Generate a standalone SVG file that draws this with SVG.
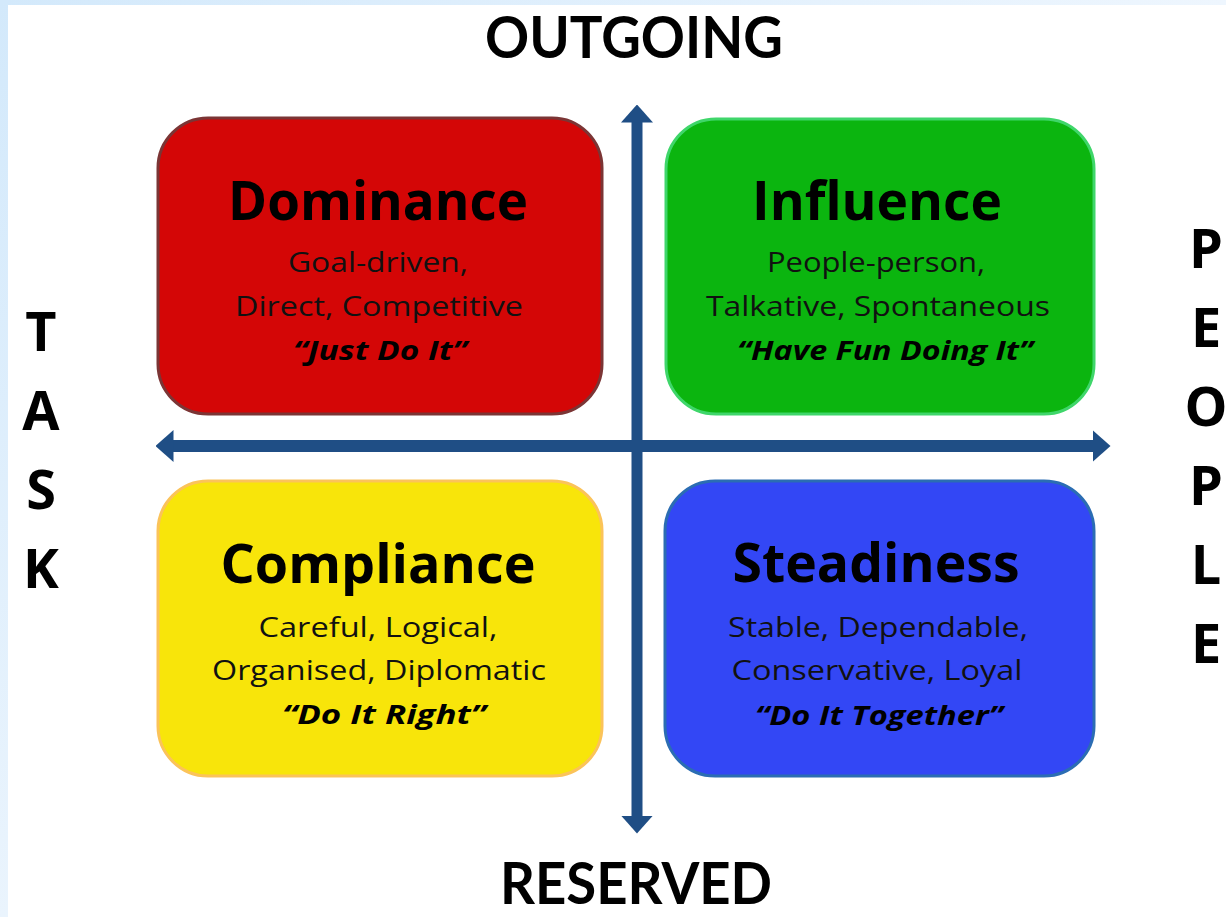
<svg xmlns="http://www.w3.org/2000/svg" width="1226" height="917" viewBox="0 0 1226 917">
  <defs>
    <linearGradient id="topband" x1="0" y1="0" x2="1" y2="0">
      <stop offset="0" stop-color="#d3e9fb"/>
      <stop offset="1" stop-color="#eef6fe"/>
    </linearGradient>
    <linearGradient id="leftband" x1="0" y1="0" x2="0" y2="1">
      <stop offset="0" stop-color="#d3e9fb"/>
      <stop offset="1" stop-color="#eaf4fd"/>
    </linearGradient>
    <marker id="head" markerUnits="userSpaceOnUse" markerWidth="18" markerHeight="32" viewBox="0 0 18 32" refX="0.5" refY="16" orient="auto-start-reverse">
      <path d="M0,0 L18,16 L0,32 Z" fill="#1f4e85"/>
    </marker>
    <style>
      .title { font-family: "Open Sans", "Liberation Sans", sans-serif; font-weight: 700; font-size: 54px; fill: #000; text-anchor: middle; }
      .body { font-family: "Open Sans", "Liberation Sans", sans-serif; font-size: 28px; fill: #111; text-anchor: middle; }
      .quote { font-family: "Open Sans", "Liberation Sans", sans-serif; font-size: 27px; font-weight: 700; font-style: italic; fill: #000; text-anchor: middle; }
      .axis { font-family: Lato, "Open Sans", sans-serif; font-weight: 700; font-size: 57px; fill: #000; text-anchor: middle; }
      .side { font-family: "Open Sans", "Liberation Sans", sans-serif; font-weight: 700; font-size: 54px; fill: #000; text-anchor: middle; }
      .box { stroke-width: 3; }
      .conn { stroke: #1f4e85; fill: none; }
    </style>
  </defs>

  <rect x="0" y="0" width="1226" height="917" fill="#ffffff"/>
  <rect x="0" y="0" width="1226" height="5" fill="url(#topband)"/>
  <rect x="0" y="0" width="8" height="917" fill="url(#leftband)"/>

  <g id="connectors">
    <line class="conn" x1="637" y1="122" x2="637" y2="816" stroke-width="11" marker-start="url(#head)" marker-end="url(#head)"/>
    <line class="conn" x1="173" y1="446" x2="1093" y2="446" stroke-width="12" marker-start="url(#head)" marker-end="url(#head)"/>
  </g>

  <g id="dominance">
    <rect class="box" x="158" y="118" width="444" height="296" rx="50" ry="50" fill="#d40606" stroke="#7b3535"/>
    <text class="title" x="378" y="220" textLength="300" lengthAdjust="spacingAndGlyphs">Dominance</text>
    <text class="body" x="378" y="272" textLength="180" lengthAdjust="spacingAndGlyphs">Goal-driven,</text>
    <text class="body" x="379" y="316" textLength="288" lengthAdjust="spacingAndGlyphs">Direct, Competitive</text>
    <text class="quote" x="380" y="360" textLength="174" lengthAdjust="spacingAndGlyphs">“Just Do It”</text>
  </g>

  <g id="influence">
    <rect class="box" x="666" y="119" width="428" height="295" rx="50" ry="50" fill="#0bb50f" stroke="#3fd66a"/>
    <text class="title" x="877" y="220" textLength="250" lengthAdjust="spacingAndGlyphs">Influence</text>
    <text class="body" x="876" y="272" textLength="218" lengthAdjust="spacingAndGlyphs">People-person,</text>
    <text class="body" x="878" y="316" textLength="344" lengthAdjust="spacingAndGlyphs">Talkative, Spontaneous</text>
    <text class="quote" x="885" y="360" textLength="296" lengthAdjust="spacingAndGlyphs">“Have Fun Doing It”</text>
  </g>

  <g id="compliance">
    <rect class="box" x="158" y="481" width="444" height="295" rx="50" ry="50" fill="#f8e50a" stroke="#fbc35a"/>
    <text class="title" x="378" y="583" textLength="315" lengthAdjust="spacingAndGlyphs">Compliance</text>
    <text class="body" x="378" y="637" textLength="239" lengthAdjust="spacingAndGlyphs">Careful,  Logical,</text>
    <text class="body" x="379" y="680" textLength="334" lengthAdjust="spacingAndGlyphs">Organised, Diplomatic</text>
    <text class="quote" x="384" y="724" textLength="204" lengthAdjust="spacingAndGlyphs">“Do It Right”</text>
  </g>

  <g id="steadiness">
    <rect class="box" x="665" y="481" width="429" height="295" rx="50" ry="50" fill="#3347f5" stroke="#2b6db3"/>
    <text class="title" x="876" y="582" textLength="287" lengthAdjust="spacingAndGlyphs">Steadiness</text>
    <text class="body" x="878" y="637" textLength="300" lengthAdjust="spacingAndGlyphs">Stable, Dependable,</text>
    <text class="body" x="877" y="680" textLength="291" lengthAdjust="spacingAndGlyphs">Conservative,  Loyal</text>
    <text class="quote" x="879" y="725" textLength="248" lengthAdjust="spacingAndGlyphs">“Do It Together”</text>
  </g>

  <g id="label-outgoing">
    <text class="axis" x="634" y="58" textLength="298" lengthAdjust="spacingAndGlyphs">OUTGOING</text>
  </g>
  <g id="label-reserved">
    <text class="axis" x="636" y="904" font-size="55" textLength="272" lengthAdjust="spacingAndGlyphs">RESERVED</text>
  </g>
  <g id="label-task">
    <text class="side" x="41" y="351">T</text>
    <text class="side" x="41" y="430">A</text>
    <text class="side" x="41" y="509">S</text>
    <text class="side" x="41" y="588">K</text>
  </g>
  <g id="label-people">
    <text class="side" x="1206" y="268">P</text>
    <text class="side" x="1206" y="347">E</text>
    <text class="side" x="1206" y="426">O</text>
    <text class="side" x="1206" y="505">P</text>
    <text class="side" x="1206" y="584">L</text>
    <text class="side" x="1206" y="663">E</text>
  </g>
</svg>
